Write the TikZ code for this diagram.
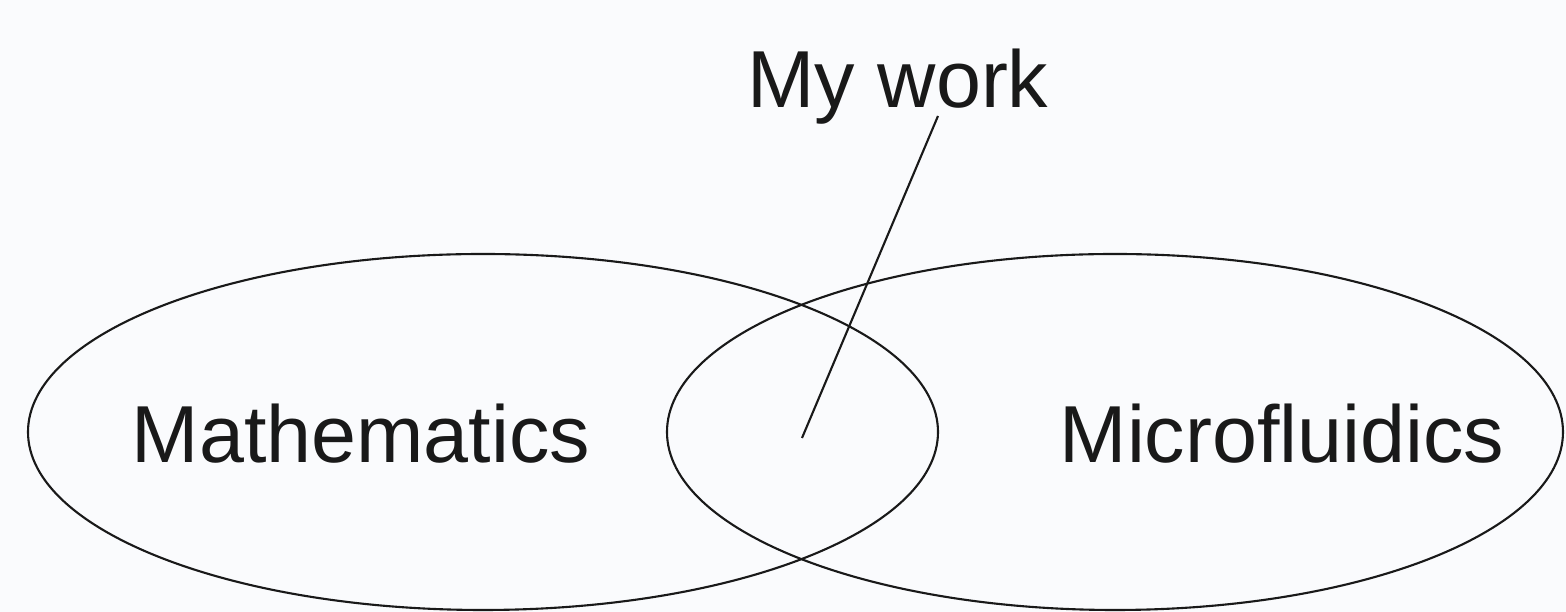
\documentclass[tikz,border=0pt]{standalone}
\usepackage{fontspec}
\setmainfont{Liberation Sans}
\usepackage{xcolor}
\usetikzlibrary{shapes.geometric,positioning}
\definecolor{paper}{RGB}{250,251,253}
\definecolor{ink}{RGB}{25,25,25}
\tikzset{
  field/.style={draw=ink,line width=0.6pt,ellipse,inner sep=0pt,
    minimum width=#1,minimum height=3.56cm},
  lbl/.style={anchor=base,inner sep=0pt,text=ink,font=\fontsize{23}{27}\selectfont}
}

\begin{document}
\begin{tikzpicture}[scale=1.0]
  \fill[paper] (0,0) rectangle (15.66,6.12);
  \useasboundingbox (0,0) rectangle (15.66,6.12);
  % the two fields
  \node[field=9.10cm] (math) at (4.83,1.80) {};
  \node[field=8.96cm] (micro) at (11.15,1.80) {};
  \node[lbl] (mathlbl) at (3.61,1.49) {Mathematics};
  \node[lbl] (microlbl) at (12.82,1.49) {Microfluidics};
  % overlap and pointer
  \node[lbl] (mywork) at (8.98,5.04) {My work};
  \coordinate (ptrtop) at (9.38,4.96);
  \coordinate (overlap) at (8.02,1.74);
  \draw[ink,line width=0.6pt] (ptrtop)--(overlap);
\end{tikzpicture}
\end{document}
